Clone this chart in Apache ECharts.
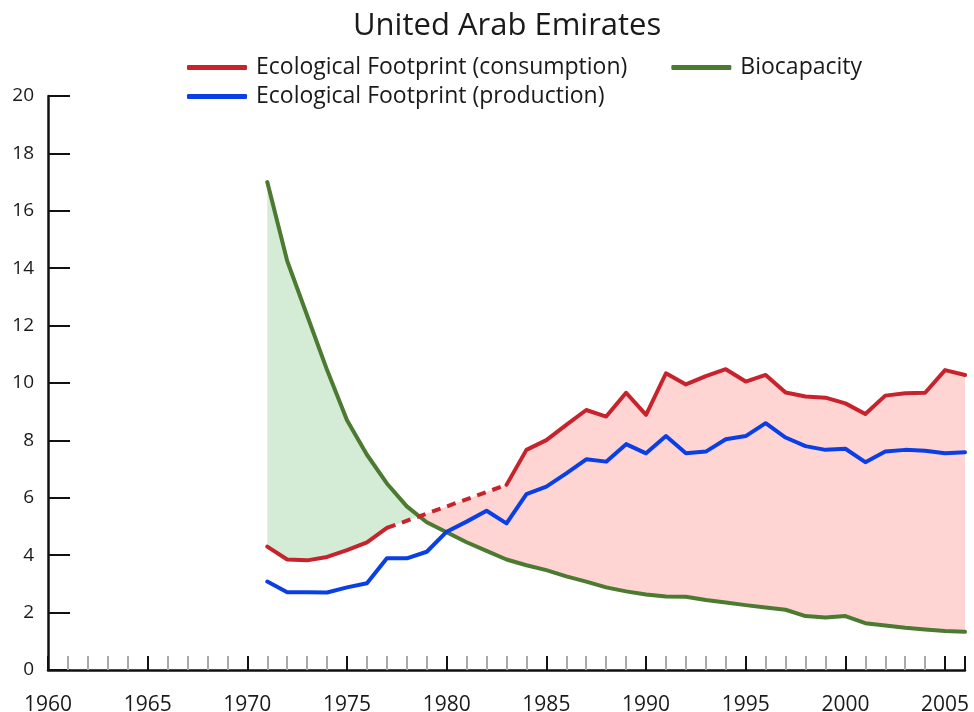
<!DOCTYPE html>
<html>
<head>
<meta charset="utf-8">
<script src="https://cdn.jsdelivr.net/npm/echarts@6/dist/echarts.min.js"></script>
<style>
  html, body { margin: 0; padding: 0; background: #fff; }
  #chart { width: 974px; height: 712px; }
</style>
</head>
<body>
<div id="chart"></div>
<script>
// years 1971 - 2006
var years = [];
for (var y = 1971; y <= 2006; y++) years.push(y);

var consumption = [4.30, 3.85, 3.82, 3.94, 4.18, 4.45, 4.95, null, null, null, null, null, 6.45, 7.67,
  8.01, 8.54, 9.06, 8.83, 9.66, 8.89, 10.34, 9.95, 10.24, 10.48, 10.05, 10.28, 9.67, 9.53,
  9.49, 9.29, 8.92, 9.56, 9.64, 9.66, 10.45, 10.28];

var production = [3.08, 2.71, 2.71, 2.70, 2.88, 3.02, 3.89, 3.89, 4.12, 4.82, 5.17, 5.55, 5.11, 6.13,
  6.39, 6.85, 7.34, 7.26, 7.87, 7.55, 8.15, 7.55, 7.61, 8.04, 8.15, 8.60, 8.10, 7.80,
  7.67, 7.71, 7.24, 7.61, 7.67, 7.64, 7.55, 7.59];

var biocapacity = [17.0, 14.25, 12.35, 10.45, 8.7, 7.5, 6.5, 5.7, 5.15, 4.8, 4.45, 4.15, 3.85, 3.65,
  3.48, 3.26, 3.08, 2.88, 2.74, 2.63, 2.56, 2.55, 2.44, 2.35, 2.26, 2.18, 2.10, 1.88,
  1.83, 1.88, 1.63, 1.55, 1.47, 1.41, 1.36, 1.33];

// the gap in consumption is bridged by a dashed line between these years
var gapYears = [1977, 1983];

var xTicks = [1960, 1965, 1970, 1975, 1980, 1985, 1990, 1995, 2000, 2005];
var yTicks = [0, 2, 4, 6, 8, 10, 12, 14, 16, 18, 20];

var RED = '#c8232c', BLUE = '#0b3fe6', GREEN = '#4c7a30';
var FONT = 'Open Sans';

function pairs(vals) {
  return years.map(function (yr, i) { return [yr, vals[i]]; });
}

// consumption value at a year, following the dashed bridge inside the gap
function consAt(i) {
  if (consumption[i] != null) return consumption[i];
  var a = years.indexOf(gapYears[0]), b = years.indexOf(gapYears[1]);
  var t = (years[i] - gapYears[0]) / (gapYears[1] - gapYears[0]);
  return consumption[a] + t * (consumption[b] - consumption[a]);
}

// polygons between biocapacity and consumption, split where they cross
function buildFills(api) {
  var polys = [];
  var top = [], bot = [], sign = null, prevD = null;
  for (var i = 0; i < years.length; i++) {
    var b = biocapacity[i], c = consAt(i), d = b - c;
    var s = d >= 0;
    if (i > 0 && s !== sign) {
      var t = prevD / (prevD - d);
      var xx = years[i - 1] + t;
      var vv = biocapacity[i - 1] + t * (b - biocapacity[i - 1]);
      top.push([xx, vv]); bot.push([xx, vv]);
      polys.push({ green: sign, pts: top.concat(bot.reverse()) });
      top = [[xx, vv]]; bot = [[xx, vv]];
    }
    top.push([years[i], Math.max(b, c)]);
    bot.push([years[i], Math.min(b, c)]);
    sign = s; prevD = d;
  }
  polys.push({ green: sign, pts: top.concat(bot.reverse()) });
  return polys.map(function (p) {
    return {
      type: 'polygon',
      shape: { points: p.pts.map(function (q) { return api.coord(q); }) },
      style: { fill: p.green ? '#d4ecd6' : '#ffd5d3', stroke: null }
    };
  });
}

var chart = echarts.init(document.getElementById('chart'));

var legendText = { fontFamily: FONT, fontSize: 23, color: '#1a1a1a', padding: [0, 0, 0, 4] };

var option = {
  animation: false,
  title: {
    text: 'United Arab Emirates',
    left: 348,
    top: 6,
    textStyle: { fontFamily: FONT, fontSize: 31, fontWeight: 'normal', color: '#1a1a1a' }
  },
  legend: [
    {
      data: ['Ecological Footprint (consumption)', 'Biocapacity'],
      left: 182, top: 51,
      itemWidth: 60, itemHeight: 5, itemGap: 44,
      icon: 'roundRect',
      textStyle: legendText
    },
    {
      data: ['Ecological Footprint (production)'],
      left: 182, top: 80,
      itemWidth: 60, itemHeight: 5,
      icon: 'roundRect',
      textStyle: legendText
    }
  ],
  grid: { left: 48, right: 9, top: 96, bottom: 42, outerBoundsMode: 'none' },
  xAxis: {
    type: 'value',
    min: 1960, max: 2006, interval: 5,
    splitLine: { show: false },
    axisLine: { lineStyle: { color: '#111', width: 2.5 } },
    axisTick: { inside: true, length: 14, lineStyle: { color: '#111', width: 2 } },
    minorTick: { show: true, splitNumber: 5, length: 14, lineStyle: { color: '#aaa', width: 2 } },
    axisLabel: {
      margin: 25, fontFamily: FONT, fontSize: 21, color: '#1a1a1a',
      formatter: function (v) { return xTicks.indexOf(v) >= 0 ? String(v) : ''; }
    }
  },
  yAxis: {
    type: 'value',
    min: 0, max: 20, interval: 2,
    splitLine: { show: false },
    axisLine: { show: true, lineStyle: { color: '#111', width: 2.5 } },
    axisTick: { show: true, inside: true, length: 22, lineStyle: { color: '#111', width: 2 } },
    axisLabel: {
      margin: 14, fontFamily: FONT, fontSize: 19, color: '#1a1a1a',
      formatter: function (v) { return yTicks.indexOf(v) >= 0 ? String(v) : ''; }
    }
  },
  series: [
    {
      name: 'fills',
      type: 'custom',
      silent: true,
      z: 1,
      data: [[1971, 0]],
      renderItem: function (params, api) {
        return { type: 'group', children: buildFills(api) };
      }
    },
    {
      name: 'Biocapacity',
      type: 'line',
      data: pairs(biocapacity),
      showSymbol: false,
      z: 3,
      lineStyle: { color: GREEN, width: 4, cap: 'round', join: 'round' },
      itemStyle: { color: GREEN }
    },
    {
      name: 'Ecological Footprint (consumption)',
      type: 'line',
      data: pairs(consumption),
      connectNulls: false,
      showSymbol: false,
      z: 4,
      lineStyle: { color: RED, width: 4, cap: 'round', join: 'round' },
      itemStyle: { color: RED }
    },
    {
      name: 'consumption gap',
      type: 'line',
      data: gapYears.map(function (yr) { return [yr, consumption[years.indexOf(yr)]]; }),
      showSymbol: false,
      z: 4,
      lineStyle: { color: RED, width: 4, type: [9, 7] },
      itemStyle: { color: RED }
    },
    {
      name: 'Ecological Footprint (production)',
      type: 'line',
      data: pairs(production),
      showSymbol: false,
      z: 5,
      lineStyle: { color: BLUE, width: 4, cap: 'round', join: 'round' },
      itemStyle: { color: BLUE }
    }
  ]
};

chart.setOption(option);
</script>
</body>
</html>
